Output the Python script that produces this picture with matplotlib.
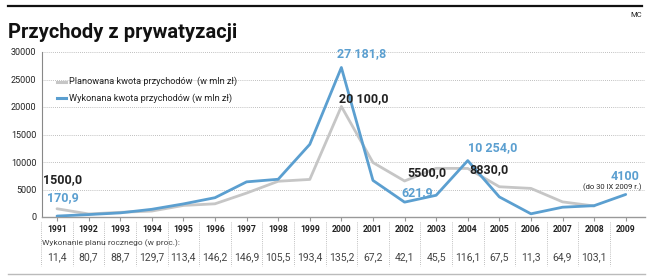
import matplotlib.pyplot as plt
import matplotlib.transforms as mtransforms
import numpy as np

plt.rcParams['font.family'] = ['Roboto', 'DejaVu Sans']

# dane (mln zł)
years = list(range(1991, 2010))
planned = [1500, 550, 850, 1080, 2100, 2400, 4350, 6500, 6830, 20100,
           9900, 6550, 8850, 8830, 5500, 5200, 2750, 2000, None]
actual = [170.9, 440, 750, 1400, 2380, 3510, 6390, 6860, 13210, 27181.8,
          6650, 2700, 3950, 10254, 3650, 580, 1780, 2060, 4100]
percent = ["11,4", "80,7", "88,7", "129,7", "113,4", "146,2", "146,9", "105,5",
           "193,4", "135,2", "67,2", "42,1", "45,5", "116,1", "67,5", "11,3",
           "64,9", "103,1", ""]
y_ticks = [0, 5000, 10000, 15000, 20000, 25000, 30000]

BLUE = "#5b9fd0"
GRAY = "#c6c6c6"
DARK = "#222222"

fig = plt.figure(figsize=(6.5, 2.79), dpi=100)
ax = fig.add_axes([42 / 650, 1 - 217 / 279, 603 / 650, 165 / 279])

x = np.array(years, dtype=float)
pl = np.array([np.nan if v is None else v for v in planned])
ax.plot(x, pl, color=GRAY, lw=2.0, solid_capstyle="round", zorder=2)
ax.plot(x, actual, color=BLUE, lw=2.0, solid_capstyle="round", zorder=3)

ax.set_xlim(1990.525, 2009.61)
ax.set_ylim(0, 30000)
ax.set_yticks(y_ticks)
ax.set_yticklabels([str(v) for v in y_ticks], fontsize=6.5, color=DARK)
ax.set_xticks(years)
ax.set_xticklabels([])
ax.tick_params(axis="y", length=0, pad=4)
ax.tick_params(axis="x", length=3, color="#999999", direction="out")
for v in y_ticks[1:]:
    ax.axhline(v, color="#aaaaaa", lw=0.6, ls=(0, (1, 1.5)), zorder=1)
for s in ["top", "right"]:
    ax.spines[s].set_visible(False)
ax.spines["left"].set_color("#888888")
ax.spines["left"].set_linewidth(0.8)
ax.spines["bottom"].set_color("#999999")
ax.spines["bottom"].set_linewidth(1.0)

# legenda
ax.plot([1991.0, 1991.3], [24600, 24600], color=GRAY, lw=2.2)
ax.text(1991.38, 24600, "Planowana kwota przychodów  (w mln zł)", fontsize=6.6,
        va="center", color=DARK)
ax.plot([1991.0, 1991.3], [21600, 21600], color=BLUE, lw=2.2)
ax.text(1991.38, 21600, "Wykonana kwota przychodów (w mln zł)", fontsize=6.6,
        va="center", color=DARK)

# etykiety wartości
def lab(xv, yv, s, dx, dy, color, size=9, ha="left"):
    ax.annotate(s, (xv, yv), xytext=(dx, dy), textcoords="offset points",
                fontsize=size, fontweight="bold", color=color, ha=ha,
                va="center", annotation_clip=False)

lab(1991, planned[0], "1500,0", -10, 21, DARK)
lab(1991, actual[0], "170,9", -7, 13, BLUE)
lab(2000, actual[9], "27 181,8", -3, 10, BLUE)
lab(2000, planned[9], "20 100,0", -2, 6, DARK)
lab(2002, planned[11], "5500,0", 2, 6, DARK)
lab(2002, actual[11], "621,9", -2, 7, BLUE)
lab(2004, actual[13], "10 254,0", 0, 9, BLUE)
lab(2004, planned[13], "8830,0", 1, -1, DARK)
lab(2009, actual[18], "4100", 10, 13, BLUE, ha="right")
ax.annotate("(do 30 IX 2009 r.)", (2009, actual[18]), xytext=(11, 5),
            textcoords="offset points", fontsize=5.5, color=DARK, ha="right",
            va="center", annotation_clip=False)

# tabela pod wykresem
trans = mtransforms.blended_transform_factory(ax.transData, fig.transFigure)
for i, yr in enumerate(years):
    ax.text(yr, 1 - 230 / 279, str(yr), transform=trans, fontsize=6.2,
            fontweight="bold", ha="center", va="center", color=DARK)
    ax.text(yr, 1 - 257 / 279, percent[i], transform=trans, fontsize=7.5,
            ha="center", va="center", color="#444444")
for k in range(len(years)):
    xs = years[0] - 0.5 + k
    ax.add_line(plt.Line2D([xs, xs], [1 - 222 / 279, 1 - 266 / 279],
                           transform=trans, color="#aaaaaa", lw=0.6,
                           ls=(0, (1, 1.5)), clip_on=False))
fig.text(42 / 650, 1 - 243 / 279, "Wykonanie planu rocznego (w proc.):",
         fontsize=6, va="center", color="#444444")

# tytuł i linie ramki
fig.text(8 / 650, 1 - 32 / 279, "Przychody z prywatyzacji", fontsize=14.5,
         fontweight="bold", va="center", color="#111111")
fig.text(642 / 650, 1 - 15 / 279, "MC", fontsize=5.5, ha="right",
         va="center", color=DARK)
fig.add_artist(plt.Line2D([8 / 650, 642 / 650], [1 - 6 / 279, 1 - 6 / 279],
                          color="#111111", lw=1.6))
fig.add_artist(plt.Line2D([8 / 650, 645 / 650], [1 - 274 / 279, 1 - 274 / 279],
                          color="#bbbbbb", lw=1.0))

fig.savefig("out.png", dpi=100)
